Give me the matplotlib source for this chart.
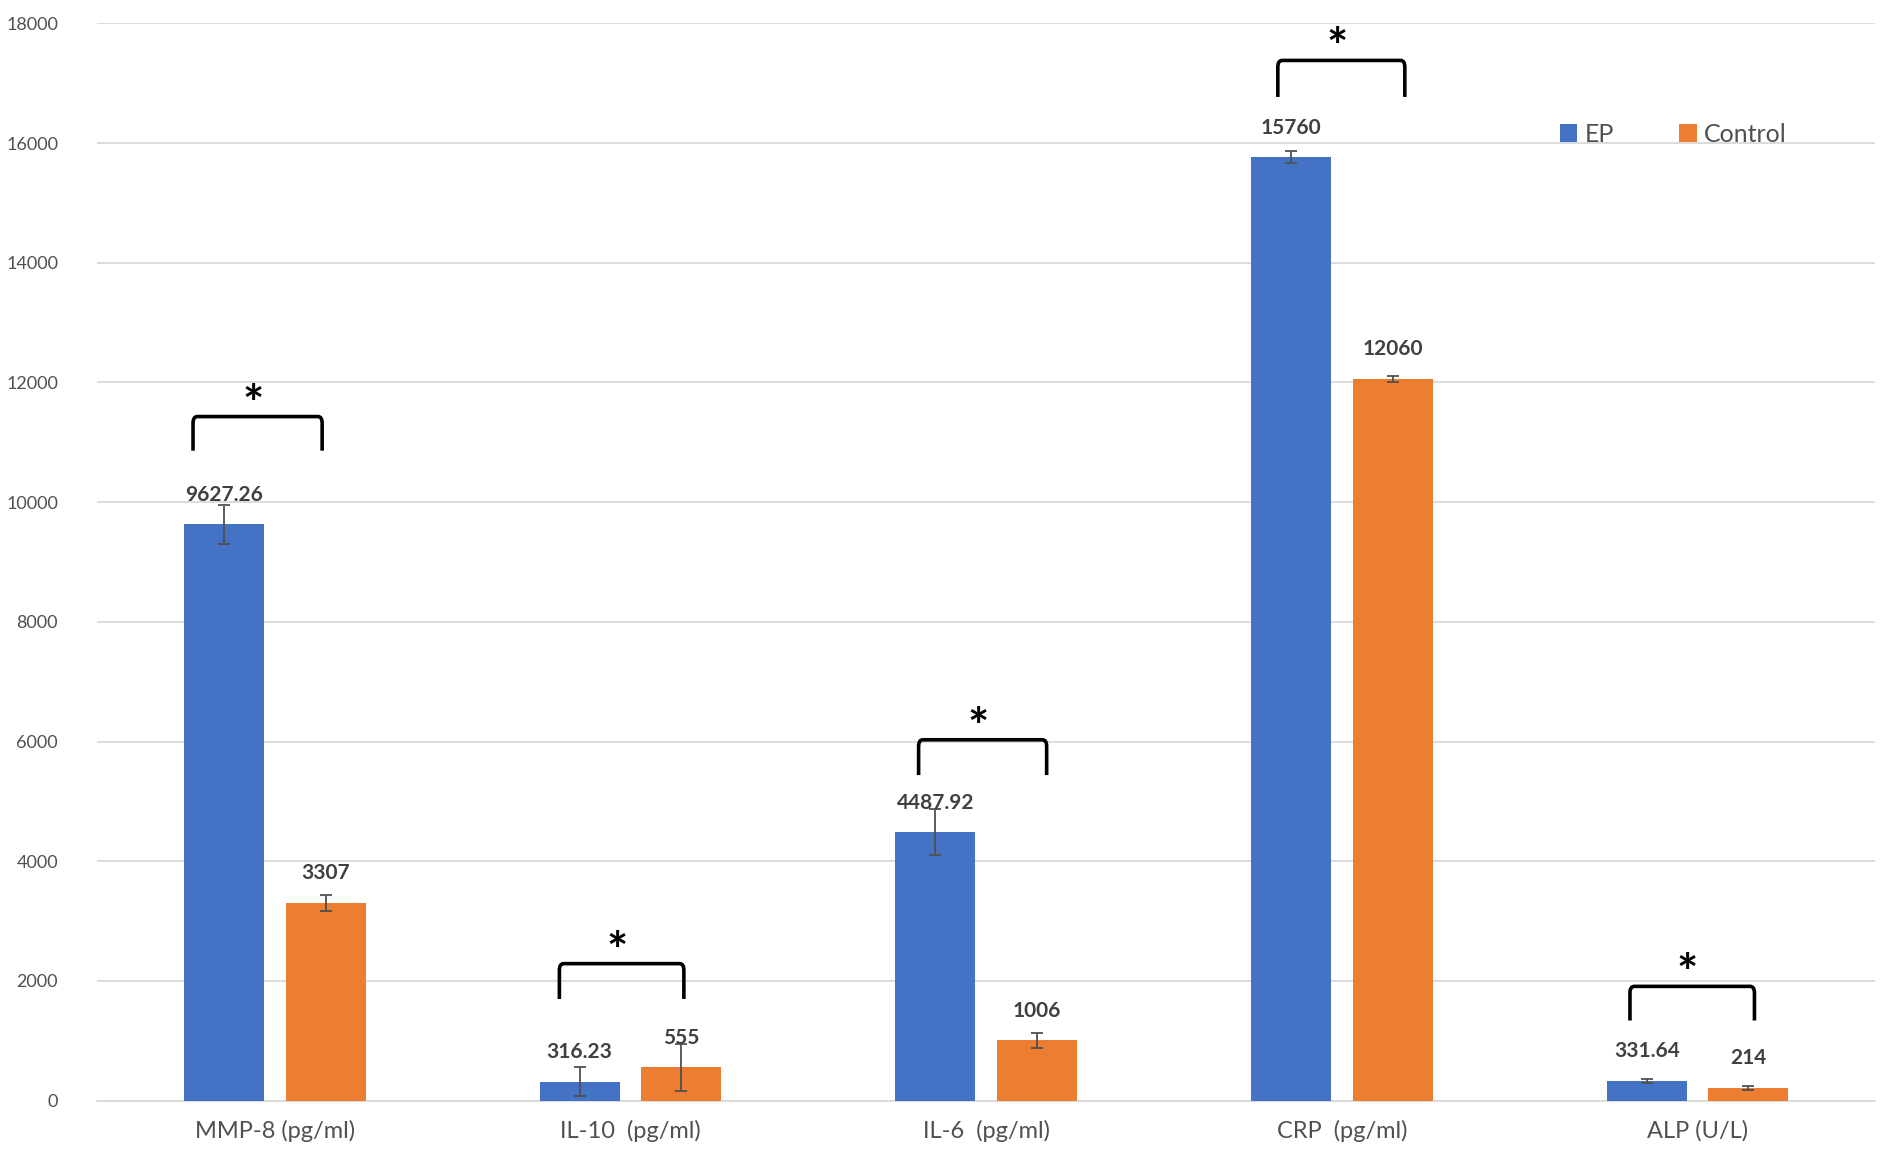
import numpy as np
import matplotlib.pyplot as plt
from matplotlib.path import Path
from matplotlib.patches import PathPatch

plt.rcParams["font.family"] = ["Lato", "DejaVu Sans"]

categories = ["MMP-8 (pg/ml)", "IL-10  (pg/ml)", "IL-6  (pg/ml)", "CRP  (pg/ml)", "ALP (U/L)"]
ep = [9627.26, 316.23, 4487.92, 15760, 331.64]
control = [3307, 555, 1006, 12060, 214]
ep_err = [330, 240, 380, 100, 30]
control_err = [130, 390, 120, 50, 30]
ep_labels = ["9627.26", "316.23", "4487.92", "15760", "331.64"]
control_labels = ["3307", "555", "1006", "12060", "214"]
# significance brackets: horizontal level and leg bottom
bracket_top = [11430, 2290, 6030, 17380, 1910]
bracket_leg = [10860, 1700, 5440, 16770, 1340]
# bracket ends, relative to the group centre (category units)
bracket_l = [-0.23, -0.20, -0.19, -0.18, -0.19]
bracket_r = [0.133, 0.15, 0.17, 0.177, 0.16]

blue = "#4472C4"
orange = "#ED7D31"
grey_txt = "#505050"

fig = plt.figure(figsize=(19.02, 11.66), dpi=100)
ax = fig.add_axes([0.051, 0.056, 0.935, 0.924])

x = np.arange(len(categories))
w = 0.225
off = 0.143

ax.bar(x - off, ep, w, color=blue, label="EP", zorder=3)
ax.bar(x + off, control, w, color=orange, label="Control", zorder=3)
ax.errorbar(x - off, ep, yerr=ep_err, fmt="none", ecolor="#505050",
            elinewidth=1.3, capsize=4, capthick=1.3, zorder=4)
ax.errorbar(x + off, control, yerr=control_err, fmt="none", ecolor="#505050",
            elinewidth=1.3, capsize=4, capthick=1.3, zorder=4)

for xi, v, t in zip(x - off, ep, ep_labels):
    ax.annotate(t, (xi, v), xytext=(0, 14), textcoords="offset points",
                ha="center", va="bottom", fontsize=15, fontweight="bold",
                color="#404040", zorder=5)
for xi, v, t in zip(x + off, control, control_labels):
    ax.annotate(t, (xi, v), xytext=(0, 14), textcoords="offset points",
                ha="center", va="bottom", fontsize=15, fontweight="bold",
                color="#404040", zorder=5)

# brackets with rounded corners
for xi, top, leg, bl, br in zip(x, bracket_top, bracket_leg, bracket_l, bracket_r):
    x0, x1 = xi + bl, xi + br
    r = 0.012
    dy = 110
    verts = [(x0, leg), (x0, top - dy), (x0, top), (x0 + r, top),
             (x1 - r, top), (x1, top), (x1, top - dy), (x1, leg)]
    codes = [Path.MOVETO, Path.LINETO, Path.CURVE3, Path.CURVE3,
             Path.LINETO, Path.CURVE3, Path.CURVE3, Path.LINETO]
    ax.add_patch(PathPatch(Path(verts, codes), fill=False, lw=2.6,
                           edgecolor="black", zorder=5))
    ax.text((x0 + x1) / 2 - 0.013, top - 200, "*", ha="center", va="bottom",
            fontsize=36, fontweight="bold", color="black")

ax.set_xlim(-0.5, 4.5)
ax.set_ylim(0, 18000)
ax.set_yticks(np.arange(0, 18001, 2000))
ax.set_xticks(x)
ax.set_xticklabels(categories, fontsize=17, color=grey_txt)
ax.tick_params(axis="y", labelsize=13, colors=grey_txt, length=0, pad=28)
ax.tick_params(axis="x", length=0, pad=14)
ax.grid(axis="y", color="#D9D9D9", lw=1.3, zorder=0)
ax.set_axisbelow(True)
for s in ["top", "right", "left"]:
    ax.spines[s].set_visible(False)
ax.spines["bottom"].set_color("#D9D9D9")
ax.spines["bottom"].set_linewidth(1.3)

ax.legend(loc="center left", bbox_to_anchor=(0.81, 0.897), ncol=2, frameon=False,
          fontsize=18, handlelength=0.7, handleheight=0.7, handletextpad=0.3,
          columnspacing=2.6, labelcolor=grey_txt)

fig.savefig("out.png", dpi=100)
